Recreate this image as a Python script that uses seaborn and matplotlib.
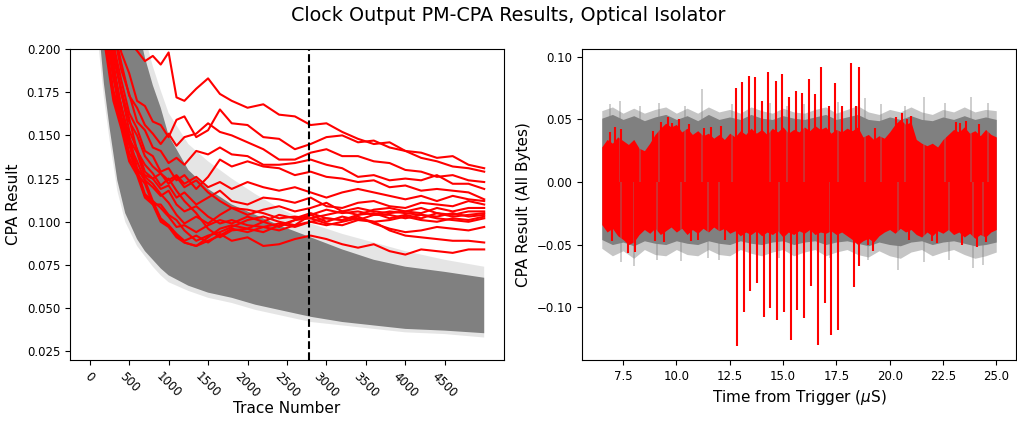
import matplotlib
matplotlib.use("Agg")
import matplotlib.pyplot as plt
import seaborn as sns
import numpy as np
import pandas as pd

# ---------------- Left panel data ----------------
trace_grid = [100, 200, 300, 400, 500, 600, 700, 800, 900, 1000, 1100, 1200, 1350, 1500,
              1650, 1800, 2000, 2200, 2400, 2600, 2800, 3000, 3200, 3400, 3600, 3800,
              4000, 4200, 4400, 4600, 4800, 4999]

red_lines = [
    [0.32, 0.26, 0.23, 0.212, 0.204, 0.199, 0.193, 0.196, 0.191, 0.198, 0.172, 0.170, 0.177, 0.183,
     0.174, 0.170, 0.166, 0.168, 0.162, 0.161, 0.156, 0.157, 0.152, 0.148, 0.145, 0.146,
     0.141, 0.140, 0.137, 0.138, 0.133, 0.131],
    [0.30, 0.25, 0.22, 0.198, 0.186, 0.170, 0.167, 0.158, 0.156, 0.149, 0.159, 0.161, 0.149, 0.153,
     0.165, 0.157, 0.156, 0.149, 0.148, 0.142, 0.145, 0.149, 0.150, 0.146, 0.147, 0.143,
     0.141, 0.137, 0.135, 0.132, 0.131, 0.129],
    [0.31, 0.25, 0.213, 0.192, 0.173, 0.166, 0.156, 0.151, 0.145, 0.151, 0.144, 0.149, 0.151, 0.157,
     0.152, 0.150, 0.146, 0.142, 0.136, 0.136, 0.140, 0.142, 0.138, 0.138, 0.135, 0.134,
     0.130, 0.129, 0.126, 0.127, 0.124, 0.123],
    [0.29, 0.24, 0.21, 0.188, 0.174, 0.158, 0.153, 0.143, 0.141, 0.134, 0.137, 0.133, 0.141, 0.139,
     0.143, 0.139, 0.138, 0.133, 0.133, 0.134, 0.136, 0.133, 0.131, 0.126, 0.127, 0.124,
     0.125, 0.124, 0.127, 0.122, 0.122, 0.119],
    [0.28, 0.235, 0.203, 0.182, 0.163, 0.154, 0.141, 0.138, 0.129, 0.131, 0.124, 0.127, 0.119, 0.126,
     0.136, 0.132, 0.135, 0.132, 0.131, 0.127, 0.129, 0.126, 0.125, 0.123, 0.124, 0.120,
     0.121, 0.118, 0.119, 0.118, 0.117, 0.113],
    [0.27, 0.225, 0.195, 0.177, 0.158, 0.150, 0.138, 0.132, 0.128, 0.124, 0.127, 0.122, 0.126, 0.120,
     0.123, 0.119, 0.123, 0.120, 0.118, 0.120, 0.117, 0.114, 0.117, 0.119, 0.117, 0.115,
     0.113, 0.115, 0.112, 0.115, 0.113, 0.112],
    [0.30, 0.24, 0.20, 0.175, 0.153, 0.142, 0.129, 0.125, 0.119, 0.121, 0.114, 0.117, 0.110, 0.114,
     0.118, 0.112, 0.110, 0.114, 0.113, 0.111, 0.114, 0.109, 0.108, 0.111, 0.112, 0.109,
     0.108, 0.111, 0.110, 0.109, 0.112, 0.110],
    [0.26, 0.215, 0.183, 0.167, 0.148, 0.140, 0.126, 0.122, 0.116, 0.111, 0.104, 0.099, 0.103, 0.099,
     0.104, 0.108, 0.104, 0.107, 0.109, 0.106, 0.108, 0.111, 0.106, 0.104, 0.107, 0.108,
     0.106, 0.105, 0.108, 0.106, 0.108, 0.108],
    [0.28, 0.23, 0.192, 0.166, 0.150, 0.131, 0.124, 0.112, 0.108, 0.103, 0.097, 0.098, 0.094, 0.098,
     0.101, 0.099, 0.103, 0.100, 0.104, 0.102, 0.105, 0.102, 0.101, 0.104, 0.105, 0.102,
     0.104, 0.102, 0.105, 0.104, 0.106, 0.106],
    [0.25, 0.205, 0.176, 0.160, 0.140, 0.130, 0.116, 0.112, 0.102, 0.098, 0.092, 0.088, 0.086, 0.091,
     0.096, 0.098, 0.096, 0.100, 0.097, 0.101, 0.102, 0.104, 0.106, 0.108, 0.106, 0.105,
     0.106, 0.108, 0.105, 0.103, 0.104, 0.105],
    [0.29, 0.235, 0.202, 0.174, 0.160, 0.141, 0.133, 0.128, 0.121, 0.125, 0.118, 0.112, 0.105, 0.096,
     0.091, 0.095, 0.096, 0.094, 0.098, 0.101, 0.104, 0.100, 0.103, 0.101, 0.104, 0.104,
     0.102, 0.104, 0.103, 0.105, 0.103, 0.104],
    [0.27, 0.22, 0.188, 0.167, 0.145, 0.135, 0.124, 0.120, 0.115, 0.118, 0.110, 0.106, 0.109, 0.103,
     0.099, 0.101, 0.098, 0.097, 0.095, 0.098, 0.100, 0.098, 0.100, 0.102, 0.100, 0.101,
     0.103, 0.101, 0.100, 0.102, 0.101, 0.103],
    [0.26, 0.21, 0.184, 0.158, 0.145, 0.128, 0.122, 0.110, 0.110, 0.104, 0.101, 0.095, 0.089, 0.092,
     0.094, 0.097, 0.101, 0.103, 0.100, 0.098, 0.104, 0.107, 0.105, 0.106, 0.104, 0.106,
     0.105, 0.104, 0.102, 0.101, 0.100, 0.102],
    [0.24, 0.2, 0.170, 0.154, 0.135, 0.127, 0.114, 0.110, 0.100, 0.097, 0.091, 0.088, 0.086, 0.089,
     0.092, 0.096, 0.094, 0.097, 0.099, 0.097, 0.100, 0.102, 0.101, 0.103, 0.099, 0.096,
     0.094, 0.095, 0.097, 0.096, 0.095, 0.097],
    [0.27, 0.22, 0.190, 0.161, 0.147, 0.129, 0.127, 0.125, 0.128, 0.122, 0.126, 0.120, 0.124, 0.117,
     0.112, 0.108, 0.107, 0.105, 0.102, 0.103, 0.102, 0.099, 0.098, 0.101, 0.100, 0.095,
     0.092, 0.091, 0.090, 0.089, 0.089, 0.088],
    [0.25, 0.205, 0.173, 0.157, 0.137, 0.129, 0.115, 0.111, 0.101, 0.098, 0.093, 0.089, 0.092, 0.088,
     0.093, 0.089, 0.091, 0.086, 0.087, 0.090, 0.092, 0.090, 0.087, 0.085, 0.087, 0.083,
     0.081, 0.084, 0.083, 0.082, 0.084, 0.084],
]

# envelope of the wrong-guess (gray) traces
band_trace = [0, 60, 120, 180, 250, 350, 450, 600, 700, 800, 900, 1000, 1250, 1500, 1800,
              2100, 2400, 2800, 3200, 3600, 4000, 4500, 4999]
band_fringe_lo = [0.40, 0.26, 0.198, 0.172, 0.148, 0.118, 0.100, 0.086, 0.080, 0.074, 0.069, 0.065,
                  0.060, 0.056, 0.053, 0.049, 0.046, 0.042, 0.040, 0.038, 0.036, 0.035, 0.033]
band_core_lo = [0.42, 0.28, 0.21, 0.18, 0.155, 0.124, 0.105, 0.090, 0.083, 0.078, 0.073, 0.069,
                0.063, 0.059, 0.056, 0.052, 0.049, 0.045, 0.042, 0.040, 0.038, 0.037, 0.0355]
band_core_hi = [0.90, 0.70, 0.55, 0.45, 0.38, 0.31, 0.26, 0.215, 0.195, 0.179, 0.166, 0.150,
                0.130, 0.119, 0.110, 0.104, 0.098, 0.091, 0.084, 0.078, 0.074, 0.071, 0.0676]
band_fringe_hi = [0.95, 0.75, 0.60, 0.50, 0.42, 0.34, 0.29, 0.235, 0.207, 0.190, 0.176, 0.163,
                  0.145, 0.135, 0.125, 0.116, 0.108, 0.099, 0.093, 0.088, 0.083, 0.078, 0.074]

marker_trace = 2780
left_xticks = [0, 500, 1000, 1500, 2000, 2500, 3000, 3500, 4000, 4500]

# ---------------- Right panel data ----------------
time_fine = [6.5, 6.75, 7.0, 7.25, 7.5, 7.75, 8.0, 8.25, 8.5, 8.75, 9.0, 9.25, 9.5, 9.75,
             10.0, 10.25, 10.5, 10.75, 11.0, 11.25, 11.5, 11.75, 12.0, 12.25, 12.5, 12.75,
             13.0, 13.25, 13.5, 13.75, 14.0, 14.25, 14.5, 14.75, 15.0, 15.25, 15.5, 15.75,
             16.0, 16.25, 16.5, 16.75, 17.0, 17.25, 17.5, 17.75, 18.0, 18.25, 18.5, 18.75,
             19.0, 19.25, 19.5, 19.75, 20.0, 20.25, 20.5, 20.75, 21.0, 21.25, 21.5, 21.75,
             22.0, 22.25, 22.5, 22.75, 23.0, 23.25, 23.5, 23.75, 24.0, 24.25, 24.5, 24.75, 25.0]
red_hi = [0.028, 0.034, 0.031, 0.036, 0.033, 0.030, 0.034, 0.027, 0.025, 0.031, 0.038, 0.043,
          0.047, 0.044, 0.046, 0.040, 0.043, 0.038, 0.041, 0.037, 0.039, 0.035, 0.038, 0.034,
          0.039, 0.036, 0.041, 0.038, 0.043, 0.039, 0.042, 0.038, 0.043, 0.040, 0.044, 0.039,
          0.042, 0.040, 0.044, 0.041, 0.045, 0.042, 0.044, 0.039, 0.042, 0.040, 0.043, 0.041,
          0.044, 0.036, 0.038, 0.034, 0.037, 0.035, 0.040, 0.046, 0.050, 0.046, 0.048, 0.034,
          0.031, 0.029, 0.031, 0.028, 0.034, 0.038, 0.042, 0.040, 0.044, 0.039, 0.041, 0.037,
          0.042, 0.038, 0.036]
red_lo = [-0.034, -0.040, -0.037, -0.043, -0.046, -0.050, -0.048, -0.042, -0.038, -0.041,
          -0.037, -0.042, -0.039, -0.036, -0.040, -0.037, -0.042, -0.038, -0.041, -0.037,
          -0.040, -0.036, -0.039, -0.037, -0.041, -0.039, -0.043, -0.040, -0.042, -0.039,
          -0.043, -0.040, -0.042, -0.039, -0.044, -0.040, -0.042, -0.039, -0.041, -0.038,
          -0.042, -0.040, -0.041, -0.039, -0.042, -0.040, -0.043, -0.046, -0.050, -0.047,
          -0.045, -0.048, -0.043, -0.040, -0.038, -0.041, -0.037, -0.040, -0.038, -0.042,
          -0.044, -0.040, -0.043, -0.039, -0.041, -0.038, -0.042, -0.040, -0.044, -0.041,
          -0.045, -0.042, -0.044, -0.040, -0.038]

time_coarse = [6.5, 7.0, 7.5, 8.0, 8.5, 9.0, 9.5, 10.0, 10.5, 11.0, 11.5, 12.0, 12.5, 13.0,
               13.5, 14.0, 14.5, 15.0, 15.5, 16.0, 16.5, 17.0, 17.5, 18.0, 18.5, 19.0, 19.5,
               20.0, 20.5, 21.0, 21.5, 22.0, 22.5, 23.0, 23.5, 24.0, 24.5, 25.0]
gray_core_hi = [0.051, 0.054, 0.050, 0.053, 0.049, 0.052, 0.054, 0.050, 0.053, 0.049, 0.054,
                0.050, 0.052, 0.050, 0.054, 0.051, 0.050, 0.053, 0.051, 0.050, 0.052, 0.054,
                0.050, 0.052, 0.054, 0.050, 0.049, 0.052, 0.050, 0.053, 0.050, 0.049, 0.052,
                0.050, 0.053, 0.050, 0.052, 0.050]
gray_fringe_hi = [0.057, 0.060, 0.055, 0.059, 0.055, 0.058, 0.060, 0.055, 0.059, 0.055, 0.060,
                  0.056, 0.058, 0.055, 0.060, 0.057, 0.055, 0.059, 0.056, 0.055, 0.058, 0.060,
                  0.055, 0.058, 0.061, 0.056, 0.054, 0.058, 0.056, 0.060, 0.056, 0.054, 0.058,
                  0.056, 0.060, 0.056, 0.058, 0.057]
gray_core_lo = [-0.046, -0.050, -0.048, -0.051, -0.047, -0.049, -0.050, -0.047, -0.049, -0.050,
                -0.047, -0.049, -0.050, -0.047, -0.049, -0.050, -0.048, -0.047, -0.050, -0.048,
                -0.047, -0.050, -0.048, -0.047, -0.049, -0.051, -0.048, -0.050, -0.051, -0.048,
                -0.047, -0.050, -0.048, -0.047, -0.049, -0.051, -0.050, -0.048]
gray_fringe_lo = [-0.053, -0.059, -0.055, -0.061, -0.054, -0.058, -0.059, -0.054, -0.058, -0.059,
                  -0.054, -0.058, -0.059, -0.054, -0.057, -0.059, -0.056, -0.054, -0.059, -0.056,
                  -0.054, -0.059, -0.056, -0.054, -0.058, -0.060, -0.055, -0.059, -0.061, -0.056,
                  -0.054, -0.059, -0.056, -0.054, -0.058, -0.061, -0.059, -0.056]

red_up_t = [6.9, 7.1, 7.4, 8.9, 9.3, 9.6, 9.8, 10.1, 10.6, 11.3, 11.6, 12.1, 12.8, 13.1, 13.4,
            13.7, 14.0, 14.3, 14.65, 14.96, 15.3, 15.6, 15.9, 16.2, 16.5, 16.8, 17.15, 17.45,
            17.76, 18.2, 18.4, 18.55, 19.3, 20.3, 20.6, 20.8, 21.0, 23.1, 23.3, 23.6, 24.2]
red_up_v = [0.040, 0.044, 0.042, 0.041, 0.048, 0.052, 0.047, 0.050, 0.046, 0.043, 0.044, 0.045,
            0.075, 0.080, 0.085, 0.084, 0.065, 0.088, 0.081, 0.086, 0.068, 0.073, 0.071, 0.082,
            0.070, 0.092, 0.061, 0.079, 0.061, 0.095, 0.061, 0.092, 0.043, 0.052, 0.055, 0.050,
            0.053, 0.048, 0.047, 0.049, 0.046]
red_dn_t = [7.0, 7.73, 8.05, 9.0, 9.4, 10.7, 11.0, 12.3, 12.85, 13.15, 13.45, 13.78, 14.1, 14.4,
            14.72, 15.05, 15.36, 15.67, 16.0, 16.33, 16.65, 16.96, 17.27, 17.58, 18.35, 18.56,
            19.0, 19.2, 20.9, 22.0, 22.2, 23.4, 24.1, 24.5]
red_dn_v = [-0.047, -0.057, -0.056, -0.047, -0.048, -0.047, -0.046, -0.046, -0.131, -0.104,
            -0.087, -0.081, -0.108, -0.101, -0.1105, -0.104, -0.126, -0.102, -0.109, -0.083,
            -0.130, -0.0965, -0.122, -0.118, -0.084, -0.067, -0.050, -0.055, -0.046, -0.047,
            -0.049, -0.050, -0.052, -0.048]
gray_up_t = [6.9, 7.35, 8.3, 9.2, 10.4, 11.2, 12.6, 13.4, 14.4, 15.2, 16.0, 17.6, 18.85, 19.6,
             20.7, 21.6, 22.6, 23.8, 24.6]
gray_up_v = [0.062, 0.065, 0.061, 0.063, 0.061, 0.074, 0.062, 0.061, 0.063, 0.061, 0.062, 0.064,
             0.067, 0.062, 0.061, 0.068, 0.063, 0.068, 0.063]
gray_dn_t = [7.4, 8.0, 9.1, 10.2, 11.5, 12.0, 14.8, 17.2, 19.0, 20.4, 21.6, 22.8, 23.9, 24.4]
gray_dn_v = [-0.064, -0.067, -0.062, -0.063, -0.061, -0.062, -0.061, -0.061, -0.062, -0.070,
             -0.064, -0.062, -0.069, -0.066]

# ---------------- Figure ----------------
fig = plt.figure(figsize=(10.17, 4.21), dpi=100)
ax1 = fig.add_axes([0.0688, 0.1449, 0.4267, 0.7387])
ax2 = fig.add_axes([0.5723, 0.1449, 0.4267, 0.7387])

# Left panel
ax1.fill_between(band_trace, band_fringe_lo, band_fringe_hi, color="gray", alpha=0.2, lw=0)
ax1.fill_between(band_trace, band_core_lo, band_core_hi, color="gray", alpha=1.0, lw=0)

df = pd.DataFrame({
    "trace": np.tile(trace_grid, len(red_lines)),
    "cpa": np.concatenate(red_lines),
    "byte": np.repeat(np.arange(len(red_lines)), len(trace_grid)),
})
sns.lineplot(data=df, x="trace", y="cpa", units="byte", estimator=None, color="red",
             lw=1.5, ax=ax1, sort=False)
ax1.axvline(marker_trace, color="black", ls="--", lw=1.5, zorder=5)
ax1.set_ylim(0.02, 0.2)
ax1.set_xticks(left_xticks)
ax1.tick_params(axis="x", labelrotation=-45)
ax1.tick_params(labelsize=8.5)
ax1.set_xlabel("Trace Number", fontsize=11, labelpad=1)
ax1.set_ylabel("CPA Result", fontsize=11)

# Right panel
ax2.vlines(gray_up_t, 0, gray_up_v, color="gray", alpha=0.45, lw=1.2)
ax2.vlines(gray_dn_t, 0, gray_dn_v, color="gray", alpha=0.45, lw=1.2)
ax2.fill_between(time_coarse, gray_fringe_lo, gray_fringe_hi, color="gray", alpha=0.45, lw=0)
ax2.fill_between(time_coarse, gray_core_lo, gray_core_hi, color="gray", alpha=1.0, lw=0)
ax2.fill_between(time_fine, red_lo, red_hi, color="red", lw=0)
ax2.vlines(red_up_t, 0, red_up_v, color="red", lw=1.5)
ax2.vlines(red_dn_t, 0, red_dn_v, color="red", lw=1.5)
ax2.tick_params(labelsize=8.5)
ax2.set_xlabel(r"Time from Trigger ($\mu$S)", fontsize=11)
ax2.set_ylabel("CPA Result (All Bytes)", fontsize=11)

fig.suptitle("Clock Output PM-CPA Results, Optical Isolator", fontsize=13.8, y=0.985)
fig.savefig("out.png", dpi=100)
